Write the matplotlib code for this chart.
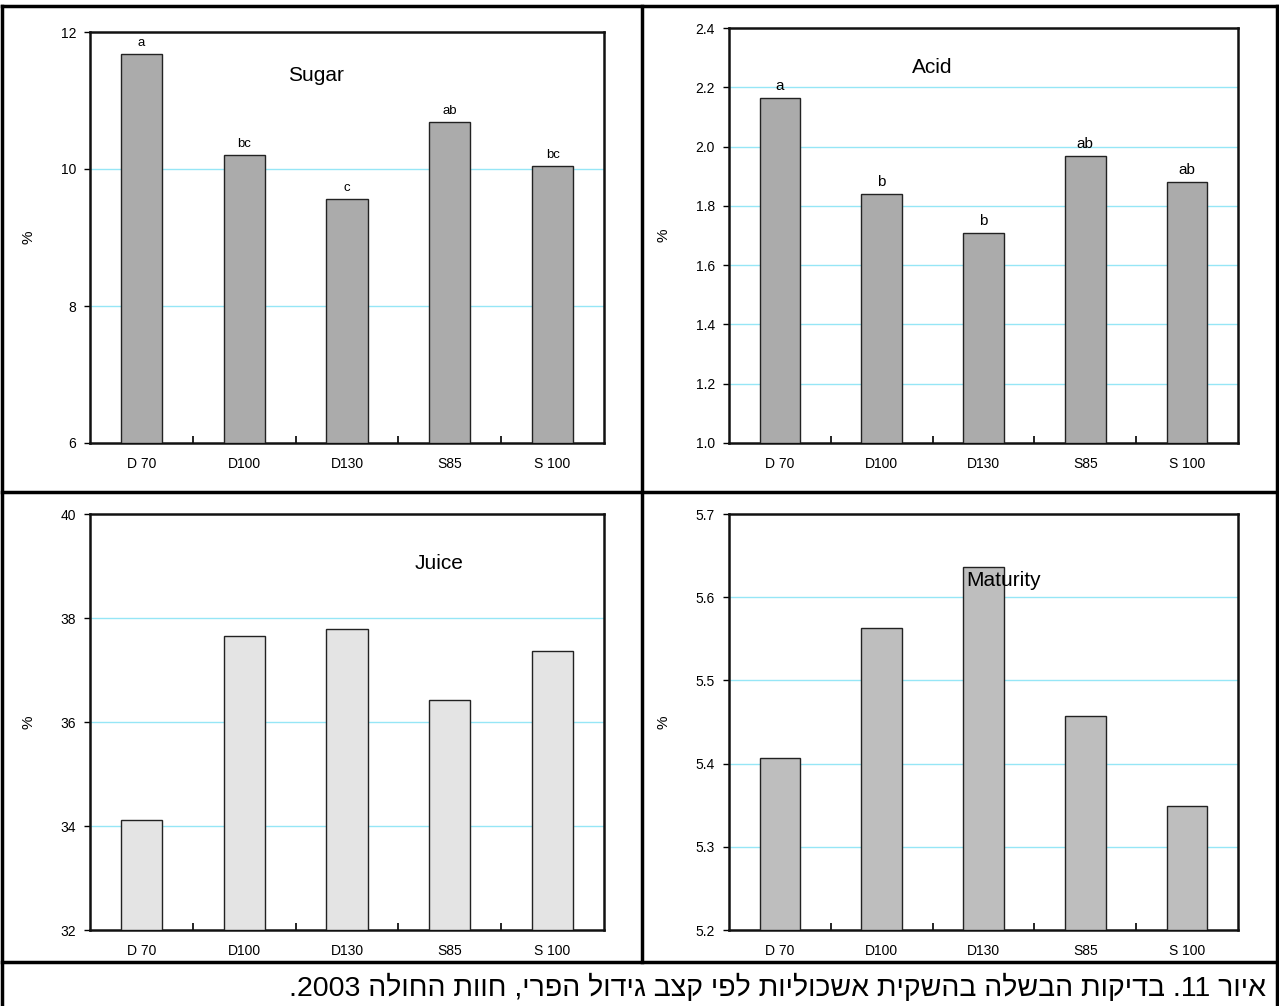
import re
import matplotlib
matplotlib.use("Agg")
import matplotlib.pyplot as plt
from matplotlib.lines import Line2D

plt.rcParams['font.family'] = ['Liberation Sans', 'DejaVu Sans']

categories = ["D 70", "D100", "D130", "S85", "S 100"]
sugar = [11.68, 10.20, 9.56, 10.68, 10.04]
sugar_letters = ["a", "bc", "c", "ab", "bc"]
acid = [2.165, 1.840, 1.710, 1.967, 1.882]
acid_letters = ["a", "b", "b", "ab", "ab"]
juice = [34.12, 37.66, 37.78, 36.42, 37.36]
maturity = [5.407, 5.563, 5.636, 5.457, 5.349]

sugar_ticks = [6, 8, 10, 12]
acid_ticks = [1.0, 1.2, 1.4, 1.6, 1.8, 2.0, 2.2, 2.4]
juice_ticks = [32, 34, 36, 38, 40]
maturity_ticks = [5.2, 5.3, 5.4, 5.5, 5.6, 5.7]

caption = "איור 11. בדיקות הבשלה בהשקית אשכוליות לפי קצב גידול הפרי, חוות החולה 2003."

W, H = 1279, 1006
fig = plt.figure(figsize=(W / 100, H / 100), dpi=100)

GRID = "#96e6f6"


def px_axes(l, t, r, b):
    return fig.add_axes([l / W, 1 - b / H, (r - l) / W, (b - t) / H])


def panel(box, values, ticks, fmt, title, title_xy, face, letters=None, lsize=9.5):
    ax = px_axes(*box)
    x = list(range(len(categories)))
    ax.bar(x, [v - ticks[0] for v in values], bottom=ticks[0], width=0.4,
           color=face, edgecolor="#222222", linewidth=1.0, zorder=3)
    ax.set_xlim(-0.5, len(categories) - 0.5)
    ax.set_ylim(ticks[0], ticks[-1])
    ax.set_yticks(ticks)
    ax.set_yticklabels([fmt.format(t) for t in ticks], fontsize=10)
    ax.set_xticks(x)
    ax.set_xticklabels(categories, fontsize=10)
    ax.tick_params(axis="x", length=0, pad=10)
    ax.set_xticks([i + 0.5 for i in x[:-1]], minor=True)
    ax.tick_params(axis="x", which="minor", direction="in", length=5, width=1.2)
    ax.tick_params(axis="y", direction="out", length=4, width=1.0, pad=6)
    for t in ticks[1:-1]:
        ax.axhline(t, color=GRID, linewidth=1.0, zorder=1)
    for s in ax.spines.values():
        s.set_linewidth(1.8)
        s.set_color("#111111")
    ax.set_ylabel("%", fontsize=11, labelpad=18)
    ax.text(title_xy[0], title_xy[1], title, transform=ax.transAxes,
            fontsize=15, ha="center", va="center", zorder=5)
    if letters:
        span = ticks[-1] - ticks[0]
        for i, (v, lab) in enumerate(zip(values, letters)):
            ax.text(i, v + span * 0.012, lab, ha="center", va="bottom", fontsize=lsize)
    return ax


panel((90, 32, 604, 443), sugar, sugar_ticks, "{:g}", "Sugar", (0.44, 0.895),
      "#ababab", sugar_letters, 9.5)
panel((729, 28, 1238, 443), acid, acid_ticks, "{:.1f}", "Acid", (0.40, 0.905),
      "#ababab", acid_letters, 11)
panel((90, 514, 604, 930), juice, juice_ticks, "{:g}", "Juice", (0.68, 0.88),
      "#e4e4e4")
panel((729, 514, 1238, 930), maturity, maturity_ticks, "{:.1f}", "Maturity",
      (0.54, 0.84), "#bebebe")

# table-like frame
def hline(y, x0, x1, lw=2.5):
    fig.add_artist(Line2D([x0 / W, x1 / W], [1 - y / H, 1 - y / H],
                          color="black", linewidth=lw, transform=fig.transFigure))


def vline(x, y0, y1, lw=2.5):
    fig.add_artist(Line2D([x / W, x / W], [1 - y0 / H, 1 - y1 / H],
                          color="black", linewidth=lw, transform=fig.transFigure))


hline(6, 2, 1277)
hline(492, 2, 1277)
hline(962, 2, 1277)
vline(2, 6, 1006)
vline(1277, 6, 1006)
vline(642, 6, 962)

# Hebrew caption in visual order
vis = caption[::-1]
vis = re.sub(r"\d+", lambda m: m.group()[::-1], vis)
fig.text(1266 / W, 1 - 988 / H, vis, ha="right", va="center", fontsize=20.5)

fig.savefig("out.png", dpi=100)
